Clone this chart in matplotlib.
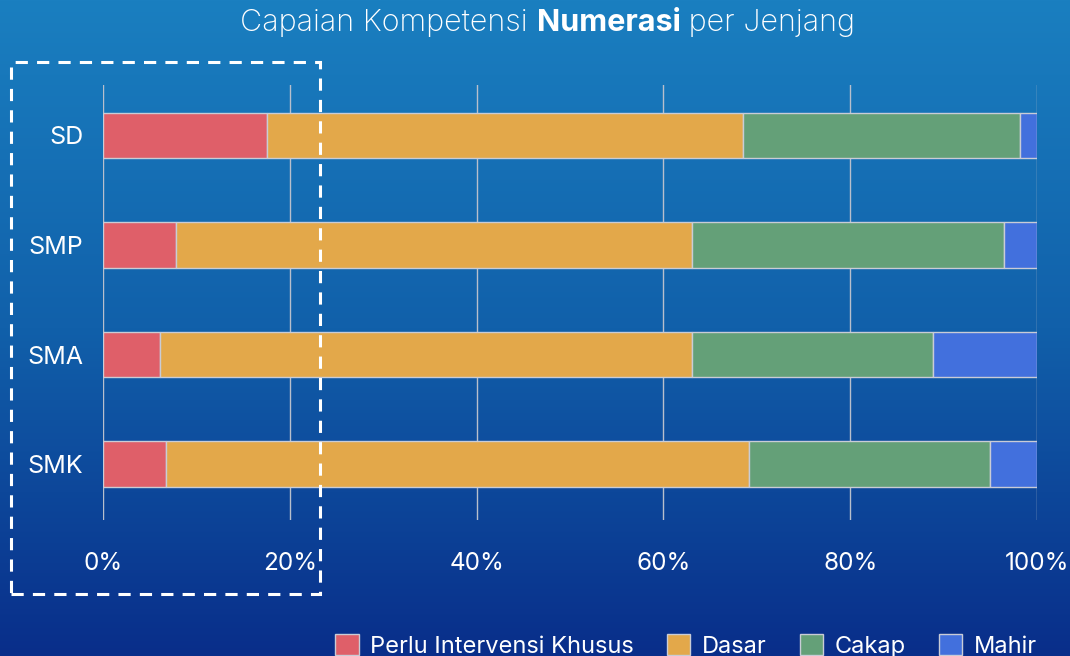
import numpy as np
import matplotlib
matplotlib.use("Agg")
import matplotlib.pyplot as plt
from matplotlib.patches import Rectangle, Patch

categories = ["SD", "SMP", "SMA", "SMK"]
series_names = ["Perlu Intervensi Khusus", "Dasar", "Cakap", "Mahir"]
perlu = [17.6, 7.8, 6.1, 6.7]
dasar = [50.9, 55.3, 57.0, 62.5]
cakap = [29.7, 33.4, 25.8, 25.8]
mahir = [1.8, 3.5, 11.1, 5.0]
xticks = [0, 20, 40, 60, 80, 100]
xticklabels = ["0%", "20%", "40%", "60%", "80%", "100%"]
colors = ["#df5f69", "#e3a84a", "#64a078", "#4270dd"]

W, H = 1070, 656
fig = plt.figure(figsize=(W / 100, H / 100), dpi=100)
plt.rcParams['font.family'] = ['Inter', 'DejaVu Sans']

# gradient background
bg = fig.add_axes([0, 0, 1, 1], zorder=-10)
top = np.array([26, 127, 192]) / 255
mid = np.array([17, 96, 170]) / 255
bot = np.array([9, 46, 138]) / 255
t = np.linspace(0, 1, 256)[:, None]
grad = np.where(t < 0.5, top + (mid - top) * (t / 0.5), mid + (bot - mid) * ((t - 0.5) / 0.5))
bg.imshow(grad[:, None, :].repeat(2, axis=1), aspect='auto', extent=[0, 1, 0, 1])
bg.set_axis_off()

ax = fig.add_axes([103 / W, 1 - 520 / H, (1037 - 103) / W, (520 - 85) / H])
ax.patch.set_alpha(0)
y = np.arange(len(categories))
left = np.zeros(len(categories))
handles = []
for name, vals, c in zip(series_names, [perlu, dasar, cakap, mahir], colors):
    ax.barh(y, vals, left=left, height=0.415, color=c, edgecolor="#c9ccd6",
            linewidth=1.0, zorder=3)
    left = left + np.array(vals)
    handles.append(Patch(facecolor=c, edgecolor="#c9ccd6", linewidth=1.0, label=name))

ax.set_xlim(0, 100)
ax.set_ylim(3.51, -0.46)
ax.set_xticks(xticks)
ax.set_xticklabels(xticklabels)
ax.set_yticks(y)
ax.set_yticklabels(categories)
ax.grid(axis='x', color="#b8bfcc", linewidth=1.0, zorder=0)
ax.grid(axis='y', visible=False)
for s in ax.spines.values():
    s.set_visible(False)
ax.tick_params(axis='x', length=0, pad=23, labelsize=17.5, labelcolor='white')
ax.tick_params(axis='y', length=0, pad=14, labelsize=18, labelcolor='white')

# dashed rectangle
rect = Rectangle((11 / W, 1 - 594 / H), (320 - 11) / W, (594 - 62) / H,
                 transform=fig.transFigure, fill=False, edgecolor='white',
                 linewidth=2.2, linestyle=(0, (4, 3)), zorder=5)
fig.patches.append(rect)

# title with bold word
fig.canvas.draw()
r = fig.canvas.get_renderer()
parts = [("Capaian Kompetensi ", 'light'), ("Numerasi", 'bold'), (" per Jenjang", 'light')]
texts = []
for s, w in parts:
    tt = fig.text(0, 1 - 23 / H, s, fontsize=22, color='white', weight=w,
                  va='center', ha='left')
    texts.append(tt)
widths = [tt.get_window_extent(r).width for tt in texts]
total = sum(widths)
x0 = 548 - total / 2
for tt, w in zip(texts, widths):
    tt.set_x(x0 / W)
    x0 += w

leg = fig.legend(handles=handles, loc='center left', bbox_to_anchor=(328 / W, 1 - 646 / H),
                 ncol=4, frameon=False, fontsize=17, labelcolor='white',
                 handlelength=1.0, handleheight=1.0, handletextpad=0.5,
                 columnspacing=1.38, borderaxespad=0, borderpad=0.3)

fig.savefig("out.png", dpi=100)
